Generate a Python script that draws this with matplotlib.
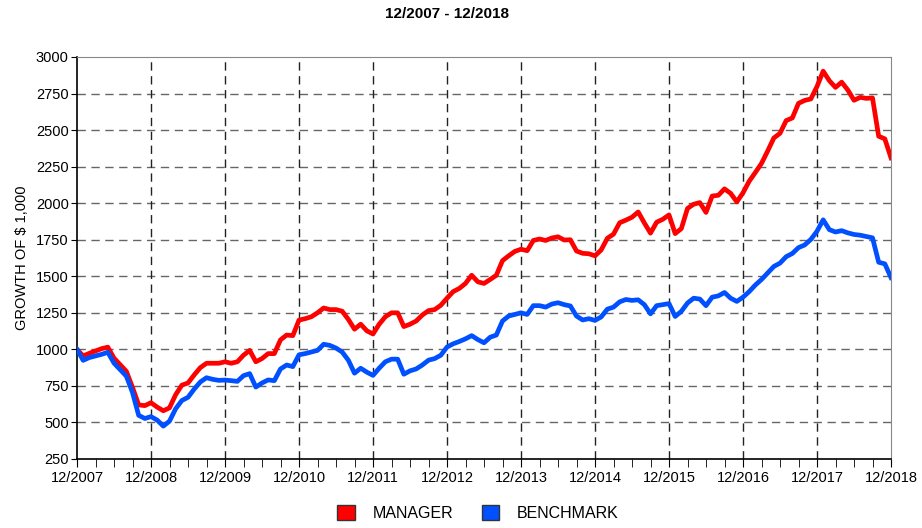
import numpy as np
import matplotlib
matplotlib.use('Agg')
import matplotlib.pyplot as plt
from matplotlib.patches import Patch

plt.rcParams['font.family'] = ['Liberation Sans', 'DejaVu Sans']

# monthly growth of $1,000, 12/2007 .. 12/2018
manager = [1000, 955, 973, 989, 1005, 1015, 940, 895, 850, 740, 620, 615,
           635, 605, 580, 600, 690, 755, 770, 825, 875, 905, 905, 905,
           915, 905, 915, 960, 993, 915, 937, 971, 971, 1065, 1098, 1094,
           1200, 1210, 1223, 1250, 1283, 1272, 1272, 1261, 1205, 1138, 1172, 1127,
           1105, 1172, 1223, 1250, 1250, 1156, 1172, 1194, 1235, 1265, 1272, 1302,
           1350, 1395, 1417, 1451, 1507, 1462, 1451, 1478, 1507, 1607, 1640, 1670,
           1685, 1675, 1745, 1755, 1745, 1762, 1770, 1748, 1750, 1673, 1657, 1654,
           1640, 1680, 1760, 1788, 1866, 1884, 1904, 1940, 1865, 1795, 1870, 1890,
           1920, 1792, 1826, 1964, 1993, 2004, 1937, 2049, 2054, 2098, 2067, 2009,
           2071, 2150, 2210, 2272, 2357, 2446, 2478, 2565, 2583, 2683, 2703, 2713,
           2798, 2903, 2838, 2792, 2828, 2774, 2704, 2724, 2717, 2720, 2458, 2440,
           2310]
benchmark = [1000, 925, 944, 955, 966, 980, 906, 862, 817, 705, 549, 527,
             540, 516, 475, 509, 594, 650, 672, 728, 777, 806, 795, 788,
             790, 786, 781, 820, 834, 742, 770, 791, 786, 866, 893, 882,
             963, 971, 982, 993, 1035, 1027, 1009, 982, 926, 837, 871, 844,
             822, 871, 915, 933, 933, 830, 853, 866, 893, 926, 937, 960,
             1016, 1038, 1054, 1072, 1094, 1067, 1045, 1083, 1098, 1194, 1228, 1239,
             1250, 1239, 1299, 1299, 1289, 1310, 1319, 1306, 1297, 1228, 1201, 1210,
             1198, 1222, 1275, 1289, 1325, 1341, 1335, 1339, 1306, 1243, 1299, 1306,
             1313, 1225, 1260, 1317, 1350, 1344, 1299, 1357, 1366, 1389, 1350, 1328,
             1357, 1395, 1440, 1478, 1522, 1567, 1590, 1634, 1656, 1696, 1714, 1752,
             1808, 1886, 1819, 1803, 1812, 1797, 1786, 1781, 1772, 1763, 1596, 1585,
             1491]
year_labels = ['12/2007', '12/2008', '12/2009', '12/2010', '12/2011', '12/2012',
               '12/2013', '12/2014', '12/2015', '12/2016', '12/2017', '12/2018']

red = '#ff0000'
blue = '#0050ff'

fig = plt.figure(figsize=(9.22, 5.28), dpi=100)
ax = fig.add_axes([77/922, 1 - 459/528, (891-77)/922, (459-57)/528])

x = np.arange(len(manager))
ax.plot(x, manager, color=red, lw=3.4, solid_joinstyle='round', zorder=3)
ax.plot(x, benchmark, color=blue, lw=3.4, solid_joinstyle='round', zorder=3)

ax.set_xlim(0, 132)
ax.set_ylim(250, 3000)
ax.set_xticks(np.arange(0, 133, 12))
ax.set_xticklabels(year_labels, fontsize=10.5)
ax.set_xticks(np.arange(0, 133, 3), minor=True)
ax.set_yticks(np.arange(250, 3001, 250))
ax.tick_params(axis='y', labelsize=10.5, length=4, direction='out', pad=2)
ax.tick_params(axis='x', which='major', length=6, direction='out', pad=3)
ax.tick_params(axis='x', which='minor', length=6, direction='out')

for v in range(500, 3000, 250):
    ax.axhline(v, color='#666666', lw=1, ls=(0, (6, 4)), zorder=1)
for xv in range(12, 132, 12):
    ax.axvline(xv, color='#222222', lw=1, ls=(0, (6, 4)), zorder=1)

ax.spines['top'].set_color('#888888')
ax.spines['right'].set_color('#888888')
ax.spines['left'].set_linewidth(1.2)
ax.spines['bottom'].set_linewidth(1.2)

ax.set_ylabel('GROWTH OF $ 1,000', fontsize=10.5, labelpad=5)
fig.text(447/922, 1 - 14/528, '12/2007 - 12/2018', ha='center', va='center',
         fontsize=11, fontweight='bold', fontstretch='condensed')

handles = [Patch(facecolor=red, edgecolor='#333333', label='MANAGER'),
           Patch(facecolor=blue, edgecolor='#333333', label='BENCHMARK')]
fig.legend(handles=handles, loc='center', bbox_to_anchor=(478/922, 1 - 513/528),
           ncol=2, frameon=False, fontsize=11.5, handlelength=1.1, handleheight=1.1,
           columnspacing=1.8, handletextpad=1.1)

fig.savefig('out.png', dpi=100)
